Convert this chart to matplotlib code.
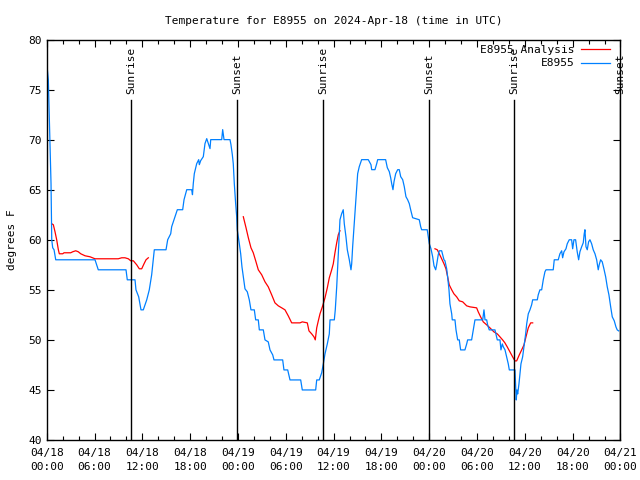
import matplotlib
matplotlib.use("Agg")
import matplotlib.pyplot as plt
from matplotlib.ticker import MultipleLocator

plt.rcParams['font.family'] = ['DejaVu Sans Mono']

# hours since 2024-04-18 00:00 UTC
obs_h = [0.08,0.20,0.33,0.54,0.63,0.75,0.92,1.13,6.06,6.47,9.95,10.11,11.08,11.20,11.54,11.83,12.12,12.55,12.87,13.17,13.50,14.97,15.18,15.56,15.68,15.97,16.39,17.06,17.23,17.57,18.19,18.29,18.39,18.52,18.82,19.07,19.15,19.32,19.65,19.86,20.08,20.28,20.49,20.58,21.96,22.08,22.25,23.0,23.12,23.29,23.41,23.54,23.71,23.84,23.91,
         24.17,24.34,24.50,24.67,24.88,25.17,25.42,25.63,26.05,26.22,26.55,26.68,27.18,27.39,27.80,28.02,28.36,28.52,29.61,29.77,30.24,30.53,31.87,32.07,33.75,33.88,34.20,34.50,34.71,34.92,35.21,35.46,35.55,36.09,36.21,36.39,36.59,36.80,37.01,37.21,37.34,37.55,37.72,37.97,38.18,38.27,38.39,38.59,38.81,38.89,39.02,39.22,39.52,40.35,40.69,40.78,41.19,41.41,41.53,42.53,42.74,42.99,43.16,43.29,43.45,43.58,43.79,44.04,44.24,44.42,44.67,44.87,45.08,45.29,45.50,45.67,45.92,46.75,46.93,47.05,47.75,47.88,
         48.01,48.22,48.43,48.60,48.81,48.93,49.13,49.26,49.56,49.69,49.85,49.97,50.19,50.31,50.48,50.60,50.82,50.89,51.23,51.36,51.57,51.77,51.94,52.48,52.70,52.82,53.32,53.45,53.61,53.74,54.71,54.87,55.0,55.21,55.33,55.53,56.25,56.37,56.54,56.88,57.0,57.17,57.30,57.51,57.72,57.92,58.05,58.76,58.85,58.92,59.01,59.10,59.26,59.39,59.51,59.72,59.89,60.10,60.23,60.43,60.64,60.85,60.98,61.56,61.68,61.89,62.11,62.31,62.52,62.65,63.56,63.69,64.19,64.40,64.62,64.74,64.91,65.16,65.32,65.57,65.87,66.0,66.16,66.37,66.57,66.75,66.91,67.13,67.33,67.45,67.54,67.67,67.83,68.0,68.17,68.38,68.58,68.80,69.01,69.21,69.33,69.51,69.71,69.92,70.14,70.34,70.55,70.77,70.97,71.22,71.43,71.59,71.77]
obs_t = [77.0,76,72,65.6,60,59.2,59,58,58,57,57,56,56,55,54.3,53,53,54,55,56.5,59,59,60,60.6,61.3,62,63,63,64,65,65,64.5,65.6,66.6,67.6,68,67.5,67.9,68.3,69.6,70.1,69.6,69.1,70,70,71,70,70,69.5,68.5,67.6,65.6,63.6,62.3,61,
         59.6,58.6,57.3,56.3,55.1,54.8,54,53,53,52,52,51,51,50,49.8,49,48.5,48,48,47,47,46,46,45,45,46,46,46.7,47.6,48.6,49.6,50.6,52,52,53,55.3,58.6,62,62.6,63,61.6,60.3,59,58,57,57.6,59.3,61.6,64,65,66.6,67.3,68,68,67.5,67,67,67.6,68,68,67.2,66.8,66.2,65.6,65,65.8,66.6,67,67,66.3,66,65.3,64.3,64,63.6,63,62.2,62,61.3,61,61,60.3,
         59.6,59.1,58.3,57.4,57.0,57.5,58.5,58.9,58.9,58.5,58,57.9,57.1,56.3,55,53.6,52.6,52,52,51,50,50,49,49,49.6,50,50,50.6,51.3,52,52,53,52,52,51.5,51,51,50.6,50,50,49,49.6,49.3,49,48.3,47.6,47,47,45.3,44,45,44.6,45.6,46.6,47.6,48.3,49.3,50.6,51.6,52.6,53,53.5,54,54,54.5,55,55,56,56.8,57,57,58,58,58.6,58.9,58.2,58.8,59.1,59.6,60,60,59.1,60,60,58.8,58,58.8,59.3,59.7,60.6,61,59.3,59,59.8,60,59.6,59,58.6,58,57,57.5,58,57.8,57.1,56.3,55.3,54.5,53.3,52.3,51.9,51.3,51,50.9]

ana1_h = [0.63,0.83,1.04,1.25,1.46,1.58,2.01,2.17,3.01,3.26,3.64,3.96,4.27,4.81,5.43,6.06,6.47,8.98,9.41,9.82,10.24,10.54,10.87,11.29,11.62,11.92,12.21,12.46,12.75]
ana1_t = [61.6,61.5,60.8,60,59,58.6,58.6,58.7,58.7,58.8,58.9,58.8,58.6,58.4,58.3,58.1,58.1,58.1,58.2,58.2,58.1,57.9,57.9,57.5,57.1,57.1,57.6,58,58.2]
ana2_h = [24.67,25.01,25.30,25.63,25.92,26.26,26.55,26.98,27.39,27.80,28.23,28.64,29.06,29.49,29.90,30.31,30.74,31.78,32.07,32.70,32.91,33.25,33.54,33.70,33.88,34.08,34.29,34.63,34.92,35.21,35.46,35.76,35.96,36.17,36.39,36.59,36.80]
ana2_t = [62.3,61.2,60.2,59.2,58.7,57.8,57,56.5,55.8,55.3,54.5,53.7,53.4,53.2,53,52.4,51.7,51.7,51.8,51.7,50.9,50.6,50.3,50.0,51.2,51.9,52.6,53.4,54.2,55.2,56.2,57,57.6,58.7,59.7,60.5,60.9]
ana3_h = [48.72,49.01,49.26,49.56,49.85,50.10,50.31,50.51,50.82,51.10,51.44,51.77,52.20,52.70,53.11,53.95,54.15,54.45,54.78,55.21,55.62,56.12,56.54,56.88,57.21,57.50,57.79,58.13,58.47,58.76,58.97,59.30,59.60,59.89,60.14,60.43,60.73,60.98]
ana3_t = [59.1,59.0,58.6,58.1,57.6,57.1,56.3,55.5,55,54.6,54.3,53.9,53.8,53.4,53.3,53.2,52.8,52.3,51.8,51.5,51.2,50.8,50.6,50.3,50.0,49.7,49.3,48.8,48.3,47.9,47.9,48.5,49,49.5,50.3,51.2,51.7,51.7]

sun_h = [10.6, 23.93, 34.65, 48.0, 58.7, 72.0]
sun_labels = ["Sunrise", "Sunset", "Sunrise", "Sunset", "Sunrise", "Sunset"]

xtick_h = list(range(0, 73, 6))
xtick_labels = ["04/18\n00:00","04/18\n06:00","04/18\n12:00","04/18\n18:00",
                "04/19\n00:00","04/19\n06:00","04/19\n12:00","04/19\n18:00",
                "04/20\n00:00","04/20\n06:00","04/20\n12:00","04/20\n18:00",
                "04/21\n00:00"]

fig = plt.figure(figsize=(6.4, 4.8), dpi=100)
ax = fig.add_axes([0.073, 0.0833, 0.8965, 0.8344])

red = '#ff0000'
blue = '#0080ff'
lw = 0.9
ax.plot(ana1_h, ana1_t, color=red, lw=lw, label='E8955 Analysis')
ax.plot(ana2_h, ana2_t, color=red, lw=lw)
ax.plot(ana3_h, ana3_t, color=red, lw=lw)
ax.plot(obs_h, obs_t, color=blue, lw=lw, label='E8955')

for h, lab in zip(sun_h, sun_labels):
    ax.plot([h, h], [40, 73.95], color='black', lw=1.0)
    ax.text(h, 74.6, lab, rotation=90, ha='center', va='bottom', fontsize=8)

ax.set_xlim(0, 72)
ax.set_ylim(40, 80)
ax.set_xticks(xtick_h)
ax.set_xticklabels(xtick_labels, fontsize=8, linespacing=1.45)
ax.xaxis.set_minor_locator(MultipleLocator(2))
ax.set_yticks(range(40, 81, 5))
ax.tick_params(axis='y', labelsize=8)
ax.tick_params(which='both', direction='in', top=True, right=True, width=0.8)
ax.tick_params(which='major', length=5)
ax.tick_params(which='minor', length=3)
ax.tick_params(axis='x', pad=6)
for s in ax.spines.values():
    s.set_linewidth(1.0)

ax.set_ylabel('degrees F', fontsize=8, labelpad=8)
ax.set_title('Temperature for E8955 on 2024-Apr-18 (time in UTC)', fontsize=8, pad=11)

leg = ax.legend(loc='upper right', bbox_to_anchor=(1.0, 1.0 + 5.5 / 400.0),
                frameon=False, markerfirst=False, fontsize=8,
                handlelength=2.6, handletextpad=0.6, labelspacing=0.35,
                borderaxespad=0.75, borderpad=0.2)

fig.savefig('out.png', dpi=100)
